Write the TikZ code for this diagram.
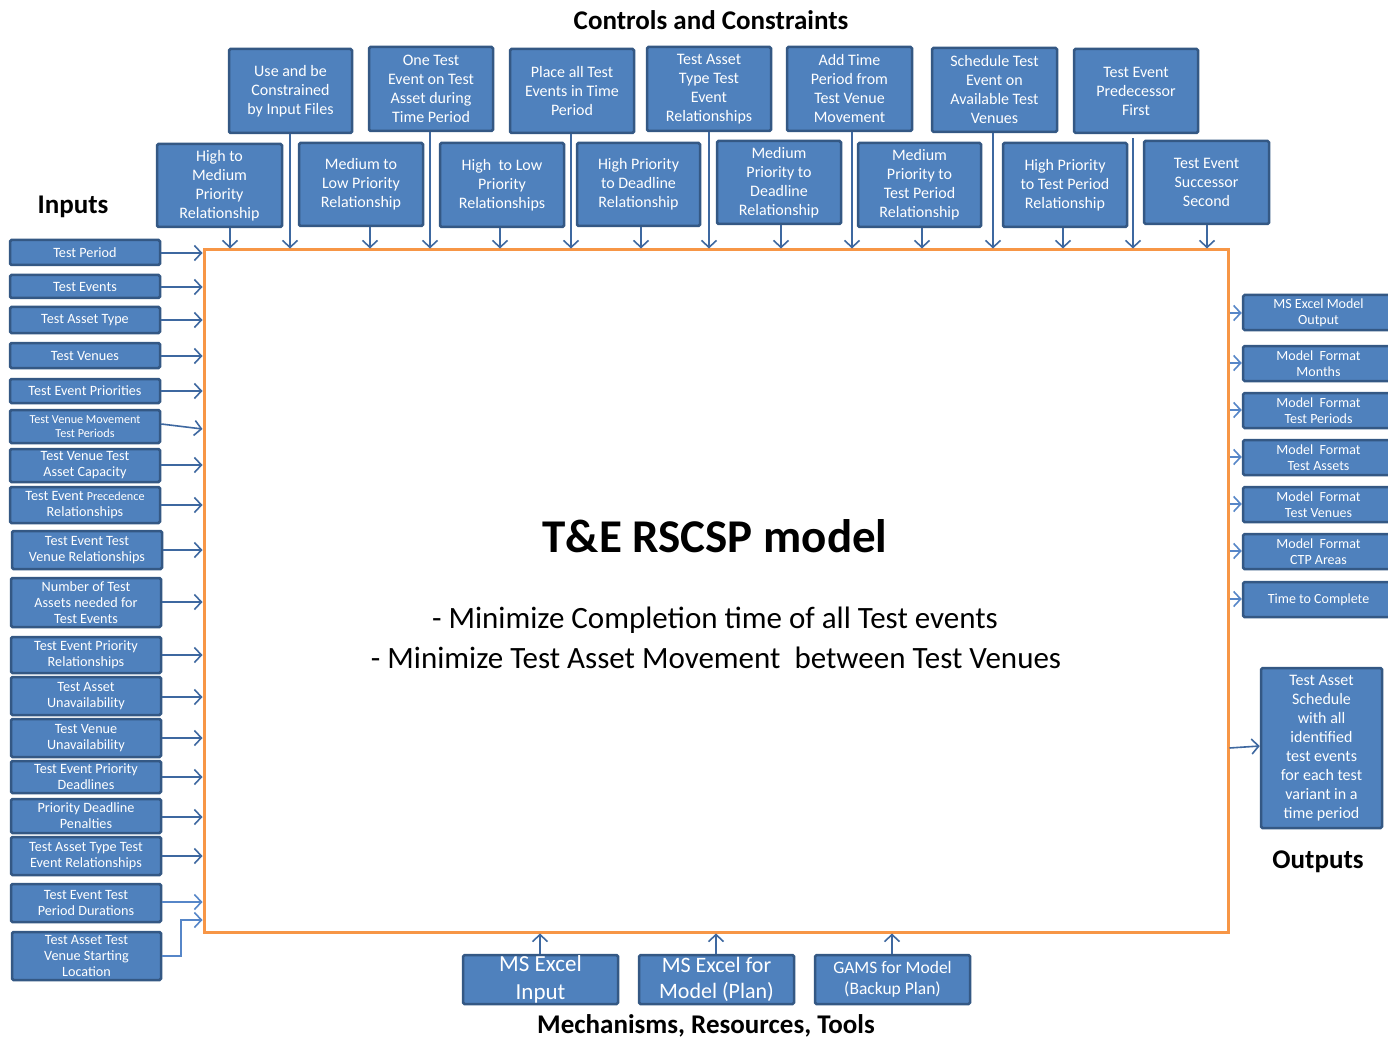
\documentclass[tikz,border=0pt]{standalone}
\usepackage{fontspec}
\setmainfont{Carlito}
\usetikzlibrary{arrows.meta}
\definecolor{boxfill}{RGB}{79,129,189}
\definecolor{boxline}{RGB}{52,88,132}
\definecolor{arrc}{RGB}{62,104,160}
\definecolor{arrl}{RGB}{86,134,200}
\definecolor{orng}{RGB}{247,150,70}
\tikzset{
  box/.style={draw=boxline, fill=boxfill, line width=2.5pt, text=white, align=center, inner sep=0pt, rounded corners=1.5pt},
  ctl/.style={box, font={\fontsize{16}{19}\selectfont}},
  inp/.style={box, font={\fontsize{14.2}{16}\selectfont}},
  outp/.style={box, font={\fontsize{14}{16}\selectfont}},
  arr/.style={draw=arrc, line width=1.6pt, -{Straight Barb[length=7pt,width=15pt,line width=1.6pt]}},
  arrlight/.style={arr, draw=arrl},
  hdr/.style={font={\fontsize{27}{30}\selectfont\bfseries}, inner sep=0pt}
}
\newcommand\bx[7][]{\node[#1,minimum width={(#5-#3)*1pt},minimum height={(#6-#4)*1pt}] (#2) at ({(#3+#5)/2},{(#4+#6)/2}) {#7};}
\begin{document}
\begin{tikzpicture}[x=1pt,y=-1pt]
\path[use as bounding box, fill=white] (0,0) rectangle (1388,1040);

% main box
\node[draw=orng, line width=3pt, minimum width=1024pt, minimum height=682pt, inner sep=0pt] (main) at (716,591) {};
\node[font={\fontsize{47}{50}\selectfont\bfseries}, inner sep=0pt] (title) at (715,536) {T\&E RSCSP model};
\node[font={\fontsize{31}{34}\selectfont}, inner sep=0pt] (b1) at (715,620) {- Minimize Completion time of all Test events};
\node[font={\fontsize{31}{34}\selectfont}, inner sep=0pt] (b2) at (716,658) {- Minimize Test Asset Movement\ \ between Test Venues};

% headers
\node[hdr] (hcc) at (711,20) {Controls and Constraints};
\node[hdr] (hin) at (73,207) {Inputs};
\node[hdr] (hout) at (1318,862) {Outputs};
\node[hdr] (hmech) at (706,1026) {Mechanisms, Resources, Tools};

% controls top row
\bx[ctl]{t1}{229}{49}{352}{133}{Use and be\\Constrained\\by Input Files}
\bx[ctl]{t2}{369}{47}{493}{131}{One Test\\Event on Test\\Asset during\\Time Period}
\bx[ctl]{t3}{510}{49}{634}{133}{Place all Test\\Events in Time\\Period}
\bx[ctl]{t4}{647}{47}{771}{131}{Test Asset\\Type Test\\Event\\Relationships}
\bx[ctl]{t5}{787}{47}{912}{131}{Add Time\\Period from\\Test Venue\\Movement}
\bx[ctl]{t6}{932}{48}{1057}{132}{Schedule Test\\Event on\\Available Test\\Venues}
\bx[ctl]{t7}{1074}{49}{1198}{133}{Test Event\\Predecessor\\First}
% controls second row
\bx[ctl]{s1}{157}{144}{282}{227}{High to\\Medium\\Priority\\Relationship}
\bx[ctl]{s2}{299}{143}{423}{226}{Medium to\\Low Priority\\Relationship}
\bx[ctl]{s3}{440}{143}{564}{227}{High\ \ to Low\\Priority\\Relationships}
\bx[ctl]{s4}{577}{143}{700}{226}{High Priority\\to Deadline\\Relationship}
\bx[ctl]{s5}{717}{141}{841}{224}{Medium\\Priority to\\Deadline\\Relationship}
\bx[ctl]{s6}{858}{143}{981}{227}{Medium\\Priority to\\Test Period\\Relationship}
\bx[ctl]{s7}{1003}{143}{1127}{227}{High Priority\\to Test Period\\Relationship}
\bx[ctl]{s8}{1144}{141}{1269}{224}{Test Event\\Successor\\Second}

\draw[arr] (t1.south -| 290,0) -- (main.north -| 290,0);
\draw[arr] (t2.south -| 430,0) -- (main.north -| 430,0);
\draw[arr] (t3.south -| 571,0) -- (main.north -| 571,0);
\draw[arr] (t4.south -| 709,0) -- (main.north -| 709,0);
\draw[arr] (t5.south -| 852,0) -- (main.north -| 852,0);
\draw[arr] (t6.south -| 993,0) -- (main.north -| 993,0);
\draw[arr] ([yshift=-4pt]t7.south -| 1133,0) -- (main.north -| 1133,0);
\draw[arr] (s1.south -| 230,0) -- (main.north -| 230,0);
\draw[arr] (s2.south -| 370,0) -- (main.north -| 370,0);
\draw[arr] (s3.south -| 500,0) -- (main.north -| 500,0);
\draw[arr] (s4.south -| 641,0) -- (main.north -| 641,0);
\draw[arr] (s5.south -| 781,0) -- (main.north -| 781,0);
\draw[arr] (s6.south -| 922,0) -- (main.north -| 922,0);
\draw[arr] (s7.south -| 1063,0) -- (main.north -| 1063,0);
\draw[arr] (s8.south -| 1207,0) -- (main.north -| 1207,0);

% inputs
\bx[inp]{i1}{10}{240}{160}{265}{Test Period}
\bx[inp]{i2}{10}{275}{160}{298}{Test Events}
\bx[inp]{i3}{10}{307}{160}{333}{Test Asset Type}
\bx[inp]{i4}{10}{343}{160}{368}{Test Venues}
\bx[inp]{i5}{10}{379}{160}{403}{Test Event Priorities}
\bx[inp,font={\fontsize{12.2}{14}\selectfont}]{i6}{10}{410}{160}{443}{Test Venue Movement\\Test Periods}
\bx[inp]{i7}{10}{449}{160}{482}{Test Venue Test\\Asset Capacity}
\bx[inp]{i8}{10}{487}{160}{523}{Test Event {\fontsize{12.2}{16}\selectfont Precedence}\\Relationships}
\bx[inp]{i9}{12}{531}{162}{569}{Test Event Test\\Venue Relationships}
\bx[inp]{i10}{11}{578}{161}{627}{Number of Test\\Assets needed for\\Test Events}
\bx[inp]{i11}{11}{637}{161}{673}{Test Event Priority\\Relationships}
\bx[inp]{i12}{11}{677}{161}{715}{Test Asset\\Unavailability}
\bx[inp]{i13}{11}{719}{161}{757}{Test Venue\\Unavailability}
\bx[inp]{i14}{11}{761}{161}{793}{Test Event Priority\\Deadlines}
\bx[inp]{i15}{11}{799}{161}{833}{Priority Deadline\\Penalties}
\bx[inp]{i16}{11}{837}{161}{875}{Test Asset Type Test\\Event Relationships}
\bx[inp]{i17}{11}{884}{161}{922}{Test Event Test\\Period Durations}
\bx[inp]{i18}{12}{932}{161}{980}{Test Asset Test\\Venue Starting\\Location}

\draw[arr] (i1.east |- 0,253) -- (main.west |- 0,253);
\draw[arr] (i2.east |- 0,287) -- (main.west |- 0,287);
\draw[arr] (i3.east |- 0,320) -- (main.west |- 0,320);
\draw[arr] (i4.east |- 0,356) -- (main.west |- 0,356);
\draw[arr] (i5.east |- 0,391) -- (main.west |- 0,391);
\draw[arr] (i6.east |- 0,424) -- (main.west |- 0,429);
\draw[arr] (i7.east |- 0,465) -- (main.west |- 0,465);
\draw[arr] (i8.east |- 0,505) -- (main.west |- 0,505);
\draw[arr] (i9.east |- 0,550) -- (main.west |- 0,550);
\draw[arr] (i10.east |- 0,602) -- (main.west |- 0,602);
\draw[arr] (i11.east |- 0,655) -- (main.west |- 0,655);
\draw[arr] (i12.east |- 0,697) -- (main.west |- 0,697);
\draw[arr] (i13.east |- 0,738) -- (main.west |- 0,738);
\draw[arr] (i14.east |- 0,777) -- (main.west |- 0,777);
\draw[arr] (i15.east |- 0,817) -- (main.west |- 0,817);
\draw[arr] (i16.east |- 0,856) -- (main.west |- 0,856);
\draw[arrlight] (i17.east |- 0,902) -- (main.west |- 0,902);
\draw[arrlight] (i18.east |- 0,956) -- (181,956) -- (181,920) -- (main.west |- 0,920);

% outputs
\bx[outp]{o1}{1243}{295}{1394}{330}{MS Excel Model\\Output}
\bx[outp]{o2}{1243}{346}{1394}{381}{Model\ \ Format\\Months}
\bx[outp]{o3}{1243}{393}{1394}{428}{Model\ \ Format\\Test Periods}
\bx[outp]{o4}{1243}{440}{1394}{475}{Model\ \ Format\\Test Assets}
\bx[outp]{o5}{1243}{487}{1394}{522}{Model\ \ Format\\Test Venues}
\bx[outp]{o6}{1243}{534}{1394}{569}{Model\ \ Format\\CTP Areas}
\bx[outp]{o7}{1243}{582}{1394}{617}{Time to Complete}
\bx[ctl]{o8}{1261}{668}{1382}{828}{Test Asset\\Schedule\\with all\\identified\\test events\\for each test\\variant in a\\time period}

\draw[arrlight] (main.east |- 0,313) -- (o1.west |- 0,313);
\draw[arrlight] (main.east |- 0,363) -- (o2.west |- 0,363);
\draw[arrlight] (main.east |- 0,410) -- (o3.west |- 0,410);
\draw[arrlight] (main.east |- 0,457) -- (o4.west |- 0,457);
\draw[arrlight] (main.east |- 0,504) -- (o5.west |- 0,504);
\draw[arrlight] (main.east |- 0,551) -- (o6.west |- 0,551);
\draw[arrlight] (main.east |- 0,599) -- (o7.west |- 0,599);
\draw[arr] (main.east |- 0,748) -- (o8.west |- 0,746);

% mechanisms
\bx[box,font={\fontsize{23}{28}\selectfont}]{m1}{463}{955}{618}{1004}{MS Excel\\Input}
\bx[box,font={\fontsize{22}{26}\selectfont}]{m2}{639}{955}{794}{1004}{MS Excel for\\Model (Plan)}
\bx[box,font={\fontsize{17.5}{21}\selectfont}]{m3}{815}{955}{970}{1004}{GAMS for Model\\(Backup Plan)}
\draw[arr] (m1.north -| 540,0) -- (main.south -| 540,0);
\draw[arr] (m2.north -| 716,0) -- (main.south -| 716,0);
\draw[arr] (m3.north -| 892,0) -- (main.south -| 892,0);
\end{tikzpicture}
\end{document}
